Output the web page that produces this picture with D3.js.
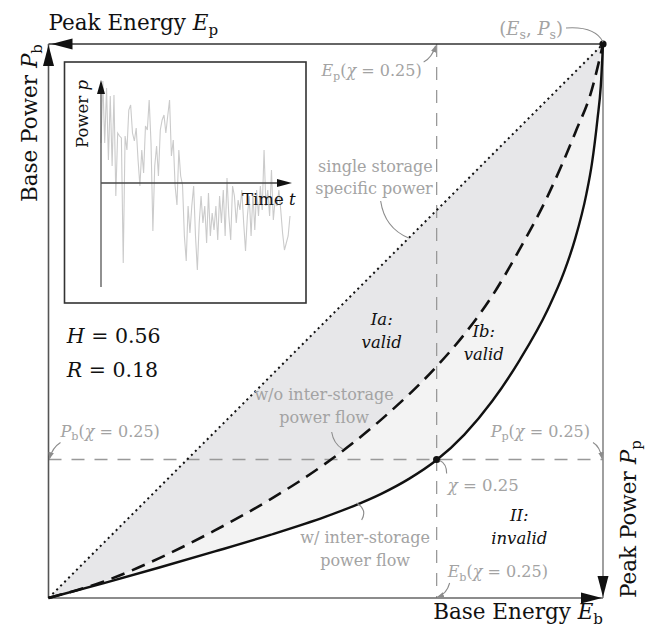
<!DOCTYPE html>
<html>
<head>
  <script src="https://cdn.jsdelivr.net/npm/d3@7"></script>
  <style>
    body { margin: 0; background: #fff; }
    text { font-family: "DejaVu Serif", serif; }
  </style>
</head>
<body>
<div id="chart"></div>
<script>
  // normalized energy / power coordinates, 0..1 along each axis
  let dashedE = [0, 0.1, 0.2, 0.3, 0.4, 0.5, 0.6, 0.7, 0.75, 0.8, 0.85, 0.9, 0.95, 0.98, 1];
  let dashedP = [0, 0.030, 0.072, 0.122, 0.178, 0.243, 0.322, 0.418, 0.476, 0.545, 0.630, 0.725, 0.840, 0.918, 1];
  let solidE = [0, 0.1, 0.2, 0.3, 0.4, 0.5, 0.55, 0.6, 0.65, 0.7, 0.75, 0.8, 0.85, 0.9, 0.93, 0.95, 0.97, 0.98, 0.99, 0.996, 1];
  let solidP = [0, 0.027, 0.055, 0.084, 0.114, 0.147, 0.166, 0.188, 0.215, 0.249, 0.295, 0.355, 0.43, 0.52, 0.589, 0.649, 0.729, 0.784, 0.864, 0.924, 1];
  let chi = { E: 0.70, P: 0.25 };
  let storage = { E: 1, P: 1 };

  // inset power time series
  let power = [0.40, 1.02, 0.40, 0.95, 0.23, 0.87, 0.17, 0.88, -0.13, 0.50, 0.47, 0.45, -0.80, 0.47, 0.33, 0.73, 0.78, 0.50, 0.42, 0.55,
    0.23, -0.03, 0.33, 0.10, 0.57, 0.53, 0.83, 0.40, -0.48, 0.17, 0.37, 0.07, 0.53, 0.63, 0.68, 0.50, 0.67, 0.83, 0.27, 0.43,
    -0.03, -0.22, 0.33, 0.07, -0.02, -0.53, -0.78, -0.23, -0.50, -0.23, -0.03, -0.53, -0.87, -0.40, -0.13, -0.40, -0.23, -0.60, -0.10, -0.53,
    -0.30, -0.47, -0.23, -0.57, -0.13, -0.40, -0.07, -0.53, 0.05, -0.33, -0.57, -0.03, -0.13, -0.40, -0.17, -0.27, -0.07, -0.40, -0.68, -0.33,
    -0.13, -0.53, -0.10, -0.47, -0.07, -0.33, -0.03, -0.27, 0.33, -0.23, -0.07, -0.33, 0.13, -0.37, -0.17, -0.23, -0.07, -0.27, -0.50, -0.67,
    -0.60, -0.53, -0.33];

  let w = 646;
  let h = 630;
  let gray = '#a3a3a3';
  let leader = '#8c8c8c';

  let x = d3.scaleLinear().domain([0, 1]).range([48.5, 603]);
  let y = d3.scaleLinear().domain([0, 1]).range([598, 44]);

  let svg = d3.select('#chart').append('svg')
    .attr('width', w)
    .attr('height', h);

  let defs = svg.append('defs');
  defs.append('marker')
    .attr('id', 'tip')
    .attr('viewBox', '0 0 10 10')
    .attr('refX', 9).attr('refY', 5)
    .attr('markerWidth', 7).attr('markerHeight', 7)
    .attr('markerUnits', 'userSpaceOnUse')
    .attr('orient', 'auto')
    .append('path')
    .attr('d', 'M0,1 L10,5 L0,9 Z')
    .attr('fill', leader);

  let dashed = dashedE.map((e, i) => [e, dashedP[i]]);
  let solid = solidE.map((e, i) => [e, solidP[i]]);

  let line = d3.line()
    .x(d => x(d[0]))
    .y(d => y(d[1]))
    .curve(d3.curveMonotoneX);

  // region Ib (between solid and dashed) and Ia (between dashed and diagonal)
  svg.append('path')
    .attr('d', line(solid) + 'Z')
    .attr('fill', '#f3f3f3');
  svg.append('path')
    .attr('d', line(dashed) + 'Z')
    .attr('fill', '#e7e7e9');

  // chi = 0.25 guides
  svg.append('line')
    .attr('x1', x(chi.E)).attr('x2', x(chi.E))
    .attr('y1', y(1)).attr('y2', y(0))
    .attr('stroke', '#999').attr('stroke-width', 1.3)
    .attr('stroke-dasharray', '13,10');
  svg.append('line')
    .attr('x1', x(0)).attr('x2', x(1))
    .attr('y1', y(chi.P)).attr('y2', y(chi.P))
    .attr('stroke', '#999').attr('stroke-width', 1.3)
    .attr('stroke-dasharray', '13,10');

  // frame / axes
  let frame = [
    { a: [0, 1], b: [1, 1], c: '#333' },
    { a: [0, 0], b: [0, 1], c: '#555' },
    { a: [1, 1], b: [1, 0], c: '#888' },
    { a: [0, 0], b: [1, 0], c: '#666' }
  ];
  svg.selectAll('.frame')
    .data(frame)
    .enter()
    .append('line')
    .attr('x1', d => x(d.a[0])).attr('y1', d => y(d.a[1]))
    .attr('x2', d => x(d.b[0])).attr('y2', d => y(d.b[1]))
    .attr('stroke', d => d.c)
    .attr('stroke-width', 1.6);

  // big arrowheads at the axis ends
  let heads = [
    { E: 0, P: 1, dir: 'up', off: [0, 1] },
    { E: 0, P: 1, dir: 'left', off: [3, 0] },
    { E: 1, P: 0, dir: 'right', off: [-1, 0] },
    { E: 1, P: 0, dir: 'down', off: [0, -1] }
  ];
  function headPath(d) {
    let tx = x(d.E) + d.off[0];
    let ty = y(d.P) + d.off[1];
    let L = 21, hw = 5.5;
    if (d.dir === 'up') return `M${tx},${ty} L${tx - hw},${ty + L} L${tx + hw},${ty + L} Z`;
    if (d.dir === 'down') return `M${tx},${ty} L${tx - hw},${ty - L} L${tx + hw},${ty - L} Z`;
    if (d.dir === 'left') return `M${tx},${ty} L${tx + L},${ty - hw} L${tx + L},${ty + hw} Z`;
    return `M${tx},${ty} L${tx - L},${ty - hw} L${tx - L},${ty + hw} Z`;
  }
  svg.selectAll('.head')
    .data(heads)
    .enter()
    .append('path')
    .attr('d', headPath)
    .attr('fill', '#111');

  // single storage specific power (diagonal)
  svg.append('line')
    .attr('x1', x(0)).attr('y1', y(0))
    .attr('x2', x(storage.E)).attr('y2', y(storage.P))
    .attr('stroke', '#111').attr('stroke-width', 2)
    .attr('stroke-dasharray', '2,3.6');

  svg.append('path')
    .attr('d', line(dashed))
    .attr('fill', 'none')
    .attr('stroke', '#111').attr('stroke-width', 2.6)
    .attr('stroke-dasharray', '14,8');

  svg.append('path')
    .attr('d', line(solid))
    .attr('fill', 'none')
    .attr('stroke', '#111').attr('stroke-width', 2.4);

  svg.selectAll('.pt')
    .data([storage, chi])
    .enter()
    .append('circle')
    .attr('cx', d => x(d.E)).attr('cy', d => y(d.P))
    .attr('r', 3.6)
    .attr('fill', '#111');

  // ---- inset
  let inset = svg.append('g');
  inset.append('rect')
    .attr('x', 64.5).attr('y', 62)
    .attr('width', 241.5).attr('height', 241)
    .attr('fill', '#fff')
    .attr('stroke', '#333').attr('stroke-width', 1.6);

  let xi = d3.scaleLinear().domain([0, power.length - 1]).range([101, 290]);
  let yi = d3.scaleLinear().domain([-1, 1]).range([283, 83]);

  inset.append('path')
    .attr('d', d3.line().x((d, i) => xi(i)).y(d => yi(d))(power))
    .attr('fill', 'none')
    .attr('stroke', '#cbcbcb').attr('stroke-width', 1.1);

  inset.append('line')
    .attr('x1', xi(0)).attr('x2', 280)
    .attr('y1', yi(0)).attr('y2', yi(0))
    .attr('stroke', '#444').attr('stroke-width', 1.3);
  inset.append('line')
    .attr('x1', xi(0)).attr('x2', xi(0))
    .attr('y1', 287).attr('y2', 92)
    .attr('stroke', '#555').attr('stroke-width', 1.3);
  inset.append('path')
    .attr('d', `M${xi(0)},80 L${xi(0) - 4},94 L${xi(0) + 4},94 Z`)
    .attr('fill', '#111');
  inset.append('path')
    .attr('d', `M292,${yi(0)} L277,${yi(0) - 4} L277,${yi(0) + 4} Z`)
    .attr('fill', '#111');

  // ---- text helper: parts are [text, style] with style 'i' italic, 's' subscript
  function addText(g, parts, size, color) {
    let t = g.append('text')
      .attr('font-size', size)
      .attr('fill', color);
    let down = false;
    parts.forEach(p => {
      let s = typeof p === 'string' ? [p, ''] : p;
      let ts = t.append('tspan').text(s[0]);
      if (s[1].includes('i')) ts.attr('font-style', 'italic');
      if (s[1].includes('s')) {
        ts.attr('font-size', size * 0.7).attr('dy', size * 0.24);
        down = true;
      } else if (down) {
        ts.attr('dy', -size * 0.24);
        down = false;
      }
    });
    return t;
  }

  let chiParts = ['(', ['χ', 'i'], ' = 0.25)'];

  // axis titles
  addText(svg, ['Peak Energy ', ['E', 'i'], ['p', 's']], 21.5, '#111')
    .attr('x', x(0)).attr('y', y(1) - 14);
  addText(svg, ['Base Energy ', ['E', 'i'], ['b', 's']], 21.5, '#111')
    .attr('x', x(1)).attr('y', y(0) + 21)
    .attr('text-anchor', 'end');
  addText(svg, ['Base Power ', ['P', 'i'], ['b', 's']], 21.5, '#111')
    .attr('text-anchor', 'end')
    .attr('transform', `translate(${x(0) - 12},${y(1)}) rotate(-90)`);
  addText(svg, ['Peak Power ', ['P', 'i'], ['p', 's']], 21.5, '#111')
    .attr('text-anchor', 'start')
    .attr('transform', `translate(${x(1) + 33},${y(0)}) rotate(-90)`);

  // inset titles
  addText(inset, ['Power ', ['p', 'i']], 16.5, '#111')
    .attr('text-anchor', 'start')
    .attr('transform', `translate(88,148) rotate(-90)`);
  addText(inset, ['Time ', ['t', 'i']], 16.5, '#111')
    .attr('x', 242).attr('y', 205);

  // H and R
  addText(svg, [['H', 'i'], ' = 0.56'], 20.5, '#111')
    .attr('x', x(0.033)).attr('y', y(0.46));
  addText(svg, [['R', 'i'], ' = 0.18'], 20.5, '#111')
    .attr('x', x(0.033)).attr('y', y(0.399));

  // region labels
  let regions = [
    { l1: 'Ia:', l2: 'valid', E: 0.601, P: 0.493 },
    { l1: 'Ib:', l2: 'valid', E: 0.785, P: 0.471 },
    { l1: 'II:', l2: 'invalid', E: 0.849, P: 0.139 }
  ];
  regions.forEach(r => {
    let t = svg.append('text')
      .attr('font-size', 16.5)
      .attr('font-style', 'italic')
      .attr('fill', '#111')
      .attr('text-anchor', 'middle');
    t.append('tspan').attr('x', x(r.E)).attr('y', y(r.P)).text(r.l1);
    t.append('tspan').attr('x', x(r.E)).attr('dy', 23).text(r.l2);
  });

  // gray two-line notes
  let notes = [
    { l1: 'single storage', l2: 'specific power', E: 0.693, P: 0.769, anchor: 'end' },
    { l1: 'w/o inter-storage', l2: 'power flow', E: 0.497, P: 0.357, anchor: 'middle' },
    { l1: 'w/ inter-storage', l2: 'power flow', E: 0.571, P: 0.099, anchor: 'middle' }
  ];
  notes.forEach(r => {
    let t = svg.append('text')
      .attr('font-size', 16)
      .attr('fill', gray)
      .attr('text-anchor', r.anchor);
    t.append('tspan').attr('x', x(r.E)).attr('y', y(r.P)).text(r.l1);
    t.append('tspan').attr('x', x(r.E)).attr('dy', 22.5).text(r.l2);
  });

  // gray math labels
  addText(svg, ['(', ['E', 'i'], ['s', 's'], ', ', ['P', 'i'], ['s', 's'], ')'], 18, gray)
    .attr('x', x(storage.E) - 40).attr('y', y(storage.P) - 9)
    .attr('text-anchor', 'end');
  addText(svg, [['E', 'i'], ['p', 's']].concat(chiParts), 16, gray)
    .attr('x', x(chi.E) - 15).attr('y', y(1) + 32)
    .attr('text-anchor', 'end');
  addText(svg, [['P', 'i'], ['b', 's']].concat(chiParts), 16, gray)
    .attr('x', x(0) + 12).attr('y', y(chi.P) - 23);
  addText(svg, [['P', 'i'], ['p', 's']].concat(chiParts), 16, gray)
    .attr('x', x(1) - 13).attr('y', y(chi.P) - 23)
    .attr('text-anchor', 'end');
  addText(svg, [['E', 'i'], ['b', 's']].concat(chiParts), 16, gray)
    .attr('x', x(chi.E) + 11).attr('y', y(0) - 21);
  addText(svg, [['χ', 'i'], ' = 0.25'], 16.5, gray)
    .attr('x', x(chi.E) + 11).attr('y', y(chi.P) + 31);

  // leader curves, relative to an anchor point
  let leaders = [
    { E: 1, P: 1, d: [[-37, -16], [-8, -18], [0, -2]], arrow: false },
    { E: chi.E, P: 1, d: [[-13, 18], [-5, 14], [-1, 2]], arrow: true },
    { E: 0, P: chi.P, d: [[12, -17], [4, -12], [1, -1]], arrow: true },
    { E: 1, P: chi.P, d: [[-10, -17], [-3, -13], [-1, -1]], arrow: true },
    { E: chi.E, P: 0, d: [[13, -15], [10, -4], [1, -1]], arrow: true },
    { E: chi.E, P: chi.P, d: [[3, 1], [10, 4], [10, 14]], arrow: false },
    { E: chi.E, P: 1, d: [[-56, 157], [-52, 184], [-28, 194]], arrow: false },
    { E: chi.E, P: 1, d: [[-105, 388], [-103, 400], [-94, 405]], arrow: false },
    { E: chi.E, P: 1, d: [[-80, 459], [-69, 466], [-75, 476]], arrow: false }
  ];
  leaders.forEach(l => {
    let ax = x(l.E), ay = y(l.P);
    let p = l.d.map(q => [ax + q[0], ay + q[1]]);
    svg.append('path')
      .attr('d', `M${p[0][0]},${p[0][1]} Q${p[1][0]},${p[1][1]} ${p[2][0]},${p[2][1]}`)
      .attr('fill', 'none')
      .attr('stroke', leader)
      .attr('stroke-width', 1.1)
      .attr('marker-end', l.arrow ? 'url(#tip)' : null);
  });
</script>
</body>
</html>
